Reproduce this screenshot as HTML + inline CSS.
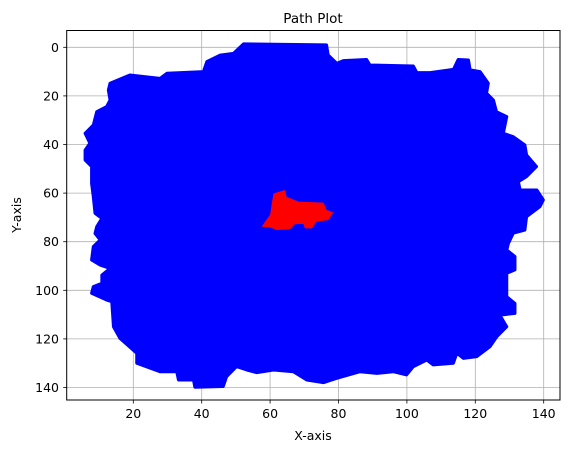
<!DOCTYPE html>
<html><head><meta charset="utf-8"><style>
html,body{margin:0;padding:0;background:#fff;}
svg{display:block;font-family:"DejaVu Sans","Liberation Sans",sans-serif;}
</style></head><body>
<svg id="chart" width="571" height="453" viewBox="0 0 571 453">
<defs><clipPath id="ax"><rect x="66.7" y="30.5" width="493.3" height="369.5"/></clipPath></defs>
<rect x="0" y="0" width="571" height="453" fill="#fff"/>
<g id="grid"></g>
<g id="marks" clip-path="url(#ax)"></g>
<rect x="66.7" y="30.5" width="493.3" height="369.5" fill="none" stroke="#000" stroke-width="1"/>
<g id="ticks"></g>
<text x="313" y="23" font-size="13.5" text-anchor="middle">Path Plot</text>
<text x="313" y="440" font-size="12.5" text-anchor="middle">X-axis</text>
<text x="21" y="215" font-size="12.5" text-anchor="middle" transform="rotate(-90 21 215)">Y-axis</text>
</svg>
<script>
const xTicks=[20,40,60,80,100,120,140];
const yTicks=[0,20,40,60,80,100,120,140];
const blueX=[13.2,19.0,27.8,29.8,40.5,41.5,45.4,49.3,52.2,76.5,77.0,79.5,81.4,88.2,89.2,101.9,102.9,106.8,113.6,115.0,118.0,118.5,121.4,123.8,123.3,125.3,126.2,129.2,128.2,131.1,134.5,135.0,137.9,135.0,132.6,133.1,138.0,139.9,138.9,135.0,134.5,131.1,129.7,129.2,131.6,131.6,129.2,129.2,131.6,131.6,127.2,129.2,126.3,124.3,120.4,116.5,114.6,113.6,107.7,105.8,101.9,99.9,96.0,91.2,86.3,79.5,75.6,70.7,66.8,61.0,56.1,53.2,50.2,47.3,46.3,38.0,37.6,33.2,32.7,27.8,21.0,21.0,16.1,14.2,13.7,12.2,7.8,8.3,10.8,10.8,13.2,10.3,7.8,8.3,10.3,8.8,9.3,10.8,8.8,8.3,7.8,7.8,5.9,5.9,7.3,5.9,8.3,9.3,12.2,13.2,12.7];
const blueY=[14.8,11.4,12.8,10.7,10.0,5.9,3.2,2.5,-1.4,-1.0,3.2,6.6,5.5,5.0,7.3,7.7,10.4,10.4,9.1,5.0,5.2,9.3,10.0,14.8,18.9,21.7,26.5,28.5,35.4,36.8,40.2,44.3,49.1,53.2,55.3,58.7,58.7,62.8,65.6,69.7,75.2,76.5,80.7,83.4,86.1,91.6,93.0,102.6,105.4,109.5,110.2,115.0,119.1,123.2,127.3,128.0,125.9,130.0,130.7,128.7,131.4,134.8,133.5,134.2,133.5,136.2,138.0,136.9,133.5,132.8,133.9,132.8,131.4,135.5,139.6,139.9,136.9,136.9,133.5,133.5,130.0,125.9,119.8,115.0,104.7,104.0,101.2,98.5,97.1,93.7,91.0,89.6,87.5,82.0,79.3,76.6,73.8,70.4,68.3,61.5,56.0,49.1,46.4,42.3,39.5,35.4,32.0,26.5,24.4,21.7,17.6];
const redX=[61.0,64.4,64.8,68.3,75.6,76.5,78.5,77.0,73.6,72.2,70.2,69.7,67.3,65.8,61.9,60.0,57.5,60.0,60.5];
const redY=[60.1,58.7,61.5,63.5,63.9,66.9,68.0,71.1,71.7,74.5,74.5,72.7,72.7,74.9,75.2,74.1,73.8,68.9,64.1];
const sx=v=>64.9+3.42*v, sy=v=>47.3+2.43*v;
const NS='http://www.w3.org/2000/svg';
const grid=document.getElementById('grid'),ticks=document.getElementById('ticks'),marks=document.getElementById('marks');
function mk(tag,attrs,parent){const e=document.createElementNS(NS,tag);for(const k in attrs)e.setAttribute(k,attrs[k]);parent.appendChild(e);return e;}
xTicks.forEach(t=>{const x=sx(t);
 const g=mk('line',{x1:x,x2:x,y1:30.5,y2:400,stroke:'#b0b0b0','stroke-width':0.8},grid);
 
 
 const tk=mk('line',{x1:x,x2:x,y1:400,y2:403.5,stroke:'#000','stroke-width':0.8},ticks);
 
 
 const tx=mk('text',{x:x,y:418,'font-size':12.5,'text-anchor':'middle'},ticks);tx.textContent=t;
 
 
});
yTicks.forEach(t=>{const y=sy(t);
 const g=mk('line',{x1:66.7,x2:560,y1:y,y2:y,stroke:'#b0b0b0','stroke-width':0.8},grid);
 
 
 const tk=mk('line',{x1:63.2,x2:66.7,y1:y,y2:y,stroke:'#000','stroke-width':0.8},ticks);
 
 
 const tx=mk('text',{x:59,y:y+4.5,'font-size':12.5,'text-anchor':'end'},ticks);tx.textContent=t;
 
 
});
const bp=mk('polygon',{points:blueX.map((v,i)=>sx(v)+','+sy(blueY[i])).join(' '),fill:'#0000ff',stroke:'#0000ff','stroke-width':3,'stroke-linejoin':'round'},marks);


const rp=mk('polygon',{points:redX.map((v,i)=>sx(v)+','+sy(redY[i])).join(' '),fill:'#ff0000'},marks);


</script>
</body></html>
